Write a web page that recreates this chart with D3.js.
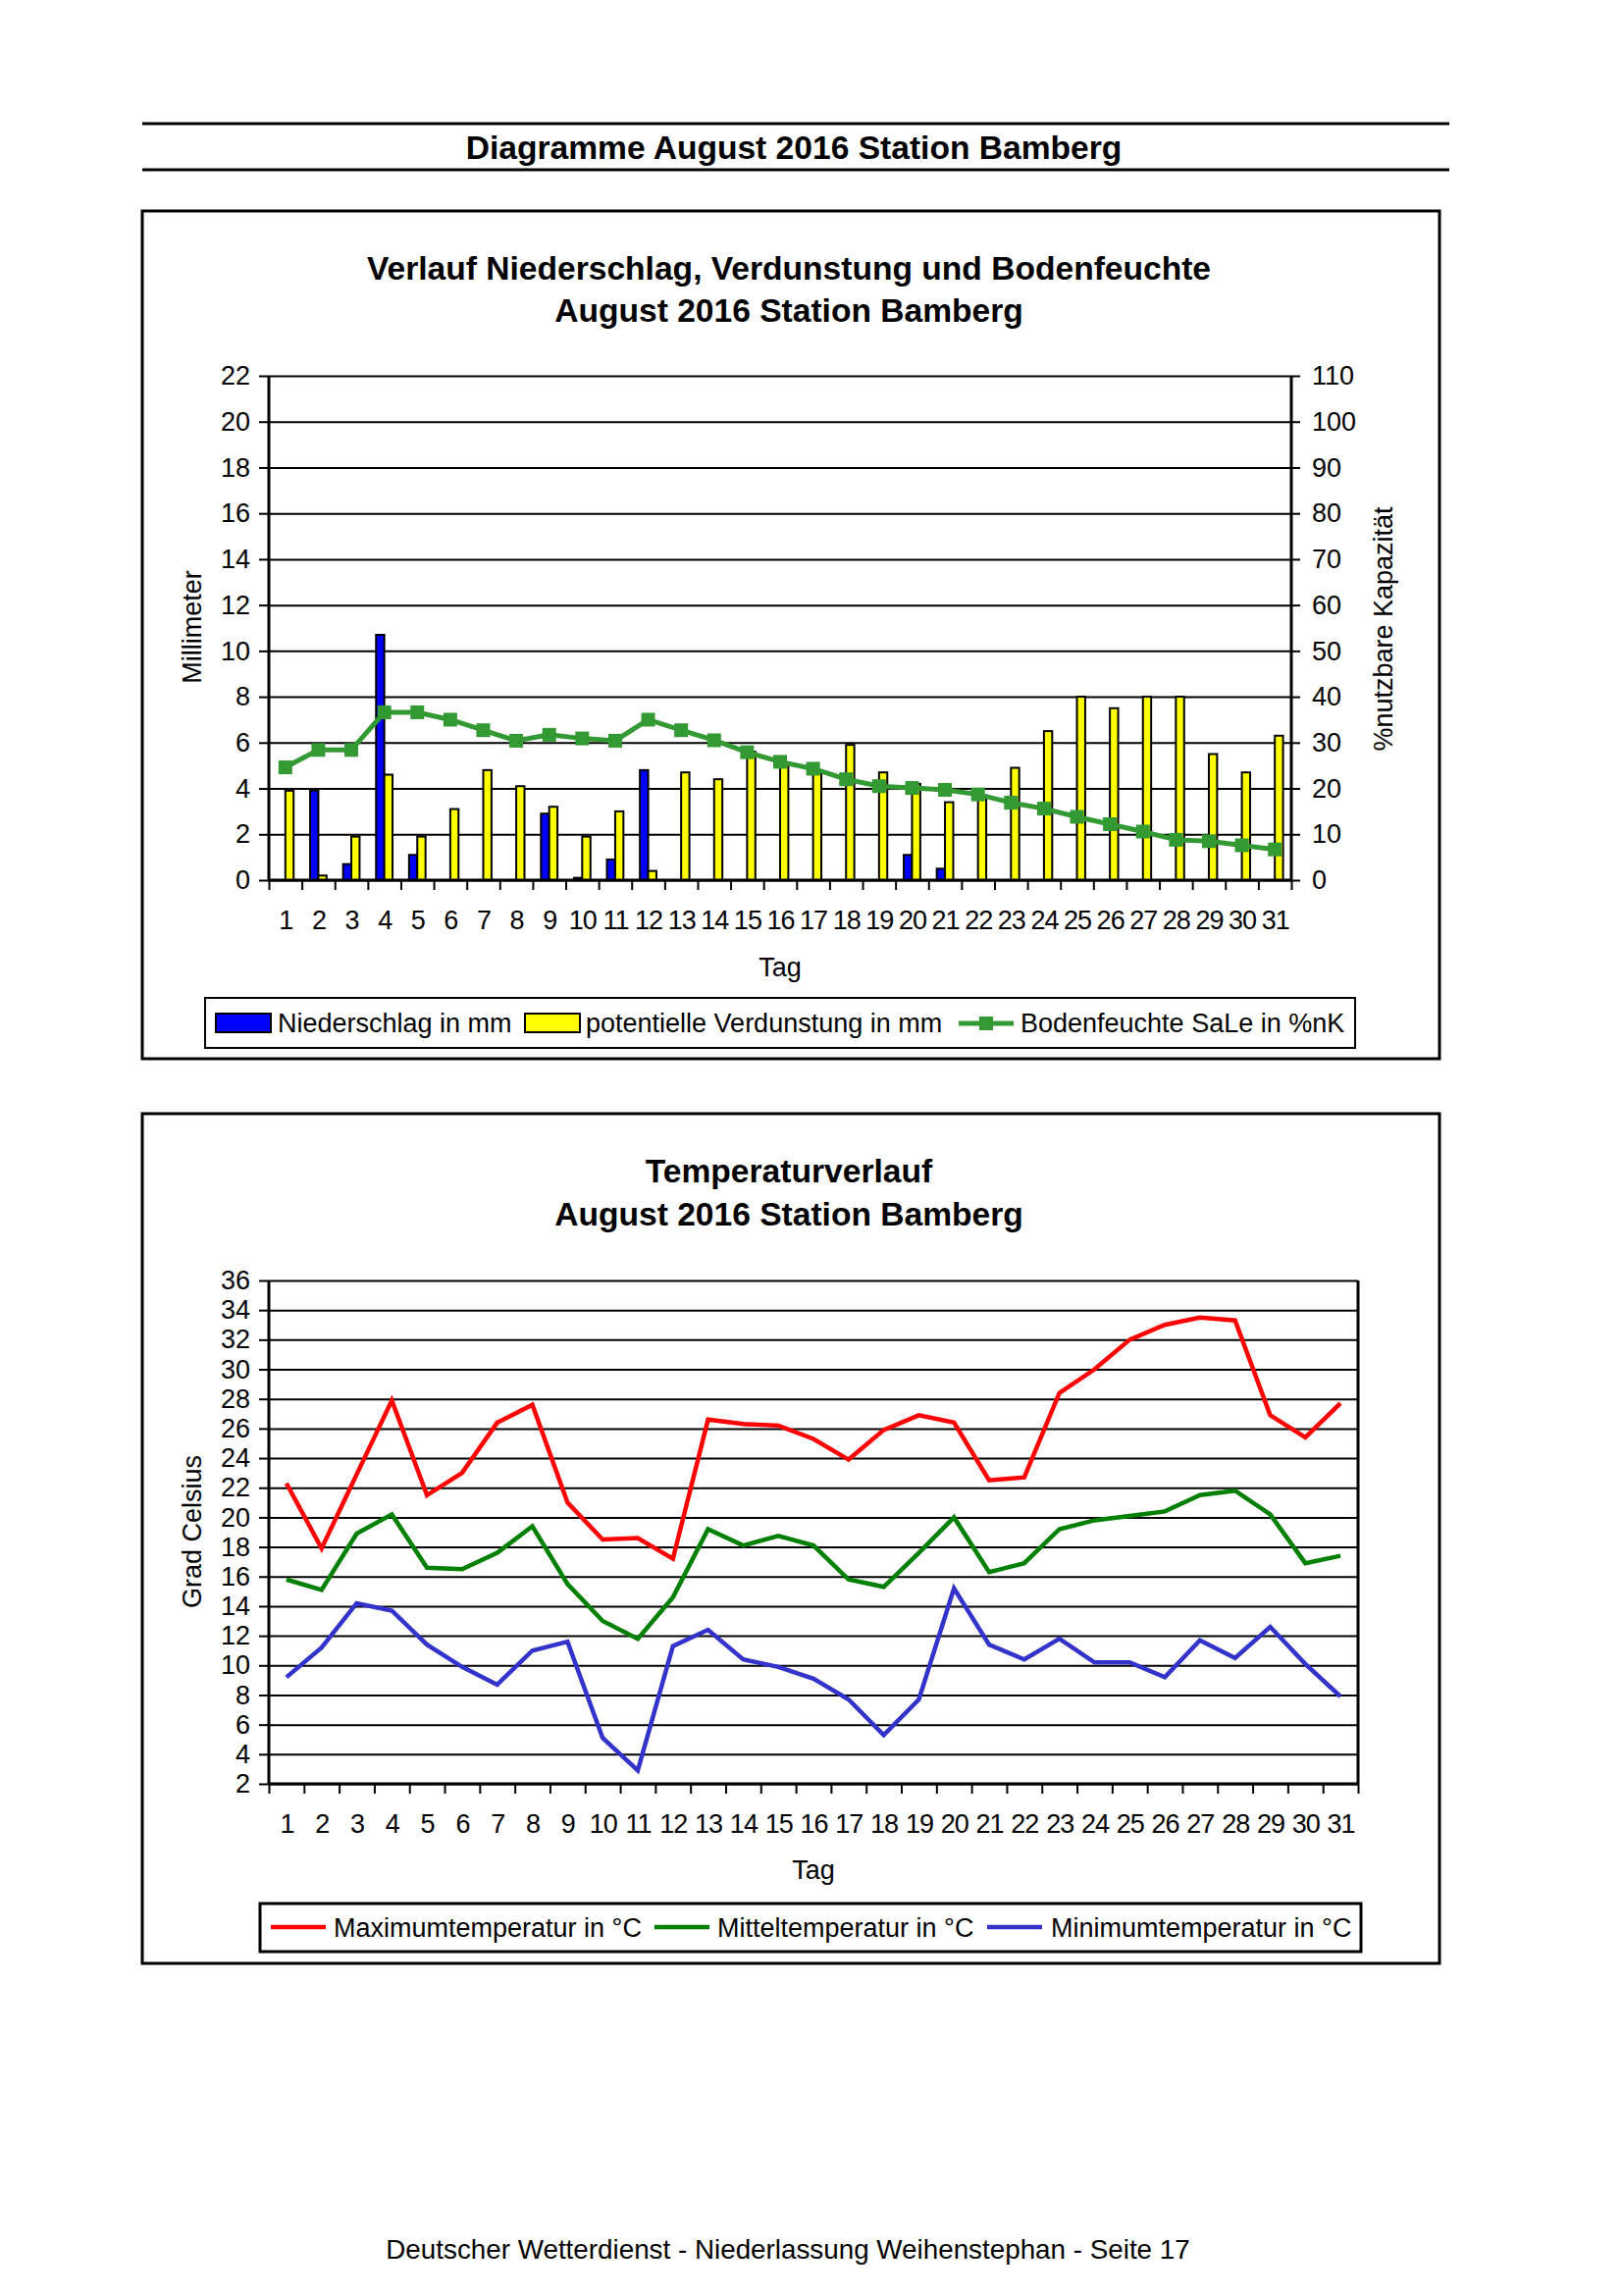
<!DOCTYPE html>
<html><head><meta charset="utf-8">
<script src="https://cdn.jsdelivr.net/npm/d3@7"></script>
<style>
html,body{margin:0;padding:0;background:#fff;}
text{font-family:"Liberation Sans",Arial,sans-serif;fill:#000;}
</style></head>
<body>
<svg id="page" width="1653" height="2340"></svg>
<script>
// ---------- data ----------
const days = [1,2,3,4,5,6,7,8,9,10,11,12,13,14,15,16,17,18,19,20,21,22,23,24,25,26,27,28,29,30,31];
const niederschlag = [0,3.9,0.7,10.7,1.1,0,0,0,2.9,0.1,0.9,4.8,0,0,0,0,0,0,0,1.1,0.5,0,0,0,0,0,0,0,0,0,0];
const verdunstung = [3.9,0.2,1.9,4.6,1.9,3.1,4.8,4.1,3.2,1.9,3.0,0.4,4.7,4.4,5.6,5.1,4.7,5.9,4.7,4.2,3.4,3.7,4.9,6.5,8.0,7.5,8.0,8.0,5.5,4.7,6.3];
const bodenfeuchte = [24.6,28.4,28.4,36.6,36.6,35.0,32.7,30.4,31.7,30.9,30.4,35.0,32.7,30.5,27.9,25.8,24.3,22.0,20.5,20.1,19.7,18.7,16.9,15.6,13.8,12.2,10.6,8.8,8.5,7.6,6.7];
const tmax = [22.3,17.9,22.9,27.9,21.5,23.0,26.4,27.6,21.0,18.5,18.6,17.2,26.6,26.3,26.2,25.3,23.9,25.9,26.9,26.4,22.5,22.7,28.4,30.0,32.0,33.0,33.5,33.3,26.9,25.4,27.7];
const tmean = [15.8,15.1,18.9,20.2,16.6,16.5,17.6,19.4,15.5,13.0,11.8,14.6,19.2,18.1,18.75,18.1,15.8,15.3,17.6,20.0,16.3,16.9,19.2,19.8,20.1,20.4,21.5,21.8,20.2,16.9,17.4];
const tmin = [9.2,11.2,14.2,13.7,11.4,9.9,8.7,11.0,11.6,5.1,2.9,11.3,12.4,10.4,9.9,9.1,7.7,5.3,7.7,15.2,11.4,10.4,11.8,10.2,10.2,9.2,11.7,10.5,12.6,10.1,7.9];
const mmTicks = [0,2,4,6,8,10,12,14,16,18,20,22];
const pctTicks = [0,10,20,30,40,50,60,70,80,90,100,110];
const tempTicks = [2,4,6,8,10,12,14,16,18,20,22,24,26,28,30,32,34,36];
const pageTitle = "Diagramme August 2016 Station Bamberg";
const chart1Title = ["Verlauf Niederschlag, Verdunstung und Bodenfeuchte","August 2016 Station Bamberg"];
const chart2Title = ["Temperaturverlauf","August 2016 Station Bamberg"];
const legend1 = ["Niederschlag in mm","potentielle Verdunstung in mm","Bodenfeuchte SaLe in %nK"];
const legend2 = ["Maximumtemperatur in °C","Mitteltemperatur in °C","Minimumtemperatur in °C"];
const footer = "Deutscher Wetterdienst - Niederlassung Weihenstephan - Seite 17";

const svg = d3.select("#page");
const FS = 27;
const TFS = 33.6;

// ---------- page header ----------
svg.append("line").attr("x1",145).attr("x2",1477).attr("y1",126).attr("y2",126).attr("stroke","#000").attr("stroke-width",3);
svg.append("line").attr("x1",145).attr("x2",1477).attr("y1",173).attr("y2",173).attr("stroke","#000").attr("stroke-width",3);
svg.append("text").attr("x",809).attr("y",162).attr("text-anchor","middle").attr("font-size",TFS).attr("font-weight","bold").text(pageTitle);
svg.append("text").attr("x",803).attr("y",2302).attr("text-anchor","middle").attr("font-size",27.8).text(footer);

function styleAxis(g, w){
  g.selectAll(".domain").attr("stroke","#000").attr("stroke-width",w||3);
  g.selectAll(".tick line").attr("stroke","#000").attr("stroke-width",2);
  g.selectAll("text").attr("font-size",FS).attr("font-family","'Liberation Sans',Arial,sans-serif").attr("fill","#000");
}

// ---------- chart 1 ----------
(function(){
  const box={x:145,y:215,w:1322,h:864};
  svg.append("rect").attr("x",box.x).attr("y",box.y).attr("width",box.w).attr("height",box.h).attr("fill","none").attr("stroke","#000").attr("stroke-width",3);
  chart1Title.forEach((t,i)=>svg.append("text").attr("x",804).attr("y",285+i*43).attr("text-anchor","middle").attr("font-size",TFS).attr("font-weight","bold").text(t));
  const L=274,R=1316,T=383,B=897;
  const x = d3.scaleBand(days,[L,R]).paddingInner(0.5).paddingOuter(0.25);
  const xs = d3.scaleBand(["n","v"],[0,x.bandwidth()]);
  const xl = d3.scaleLinear([0,days.length],[L,R]);
  const y = d3.scaleLinear([0,22],[B,T]);
  const y2 = d3.scaleLinear([0,110],[B,T]);
  // gridlines
  const grid = svg.append("g").attr("transform",`translate(${L},0)`).call(d3.axisLeft(y).tickValues(mmTicks).tickSize(-(R-L)).tickFormat(""));
  grid.selectAll(".domain").remove();
  grid.selectAll(".tick line").attr("stroke","#000").attr("stroke-width",2);
  // bars
  const g = svg.append("g");
  g.selectAll("rect.n").data(days).join("rect").attr("class","n")
    .attr("x",d=>x(d)+xs("n")).attr("width",xs.bandwidth())
    .attr("y",(d,i)=>y(niederschlag[i])).attr("height",(d,i)=>B-y(niederschlag[i]))
    .attr("fill","#0000ff").attr("stroke","#000").attr("stroke-width",2)
    .style("display",(d,i)=>niederschlag[i]>0?null:"none");
  g.selectAll("rect.v").data(days).join("rect").attr("class","v")
    .attr("x",d=>x(d)+xs("v")).attr("width",xs.bandwidth())
    .attr("y",(d,i)=>y(verdunstung[i])).attr("height",(d,i)=>B-y(verdunstung[i]))
    .attr("fill","#ffff00").attr("stroke","#000").attr("stroke-width",2);
  // line
  const cx = d=>x(d)+x.bandwidth()/2;
  const line = d3.line().x((d,i)=>cx(days[i])).y(d=>y2(d));
  g.append("path").attr("d",line(bodenfeuchte)).attr("fill","none").attr("stroke","#339933").attr("stroke-width",5);
  g.selectAll("rect.m").data(bodenfeuchte).join("rect").attr("class","m")
    .attr("x",(d,i)=>cx(days[i])-7).attr("y",d=>y2(d)-7).attr("width",14).attr("height",14).attr("fill","#339933");
  // axes
  const ax = svg.append("g").attr("transform",`translate(${L},0)`).call(d3.axisLeft(y).tickValues(mmTicks).tickSize(10).tickPadding(9));
  styleAxis(ax); ax.select(".domain").attr("d",`M0,${T}V${B}`);
  const ar = svg.append("g").attr("transform",`translate(${R},0)`).call(d3.axisRight(y2).tickValues(pctTicks).tickSize(9).tickPadding(12));
  styleAxis(ar); ar.select(".domain").attr("d",`M0,${T}V${B}`);
  const ab = svg.append("g").attr("transform",`translate(0,${B})`).call(d3.axisBottom(xl).tickValues(d3.range(days.length+1)).tickSize(10).tickFormat(""));
  styleAxis(ab); ab.select(".domain").attr("d",`M${L},0H${R}`);
  const abl = svg.append("g").attr("transform",`translate(0,${B})`).call(d3.axisBottom(d3.scalePoint(days,[L+ (R-L)/62, R-(R-L)/62])).tickSize(0));
  styleAxis(abl); abl.select(".domain").remove();
  abl.selectAll("text").attr("dy",0).attr("y",50).attr("letter-spacing",-1);
  svg.append("text").attr("x",795).attr("y",995).attr("text-anchor","middle").attr("font-size",FS).text("Tag");
  svg.append("text").attr("transform","translate(205,639) rotate(-90)").attr("text-anchor","middle").attr("font-size",FS).text("Millimeter");
  svg.append("text").attr("transform","translate(1419,641) rotate(-90)").attr("text-anchor","middle").attr("font-size",FS).text("%nutzbare Kapazität");
  // legend
  svg.append("rect").attr("x",209).attr("y",1017).attr("width",1172).attr("height",51).attr("fill","#fff").attr("stroke","#000").attr("stroke-width",2);
  svg.append("rect").attr("x",220).attr("y",1033).attr("width",56).attr("height",19).attr("fill","#0000ff").attr("stroke","#000").attr("stroke-width",2);
  svg.append("text").attr("x",283).attr("y",1052).attr("font-size",FS).text(legend1[0]);
  svg.append("rect").attr("x",535).attr("y",1033).attr("width",56).attr("height",19).attr("fill","#ffff00").attr("stroke","#000").attr("stroke-width",2);
  svg.append("text").attr("x",597).attr("y",1052).attr("font-size",FS).text(legend1[1]);
  svg.append("line").attr("x1",977).attr("x2",1033).attr("y1",1043).attr("y2",1043).attr("stroke","#339933").attr("stroke-width",5);
  svg.append("rect").attr("x",998).attr("y",1036).attr("width",14).attr("height",14).attr("fill","#339933");
  svg.append("text").attr("x",1040).attr("y",1052).attr("font-size",FS).text(legend1[2]);
})();

// ---------- chart 2 ----------
(function(){
  svg.append("rect").attr("x",145).attr("y",1135).attr("width",1322).attr("height",866).attr("fill","none").attr("stroke","#000").attr("stroke-width",3);
  chart2Title.forEach((t,i)=>svg.append("text").attr("x",804).attr("y",1205+i*44).attr("text-anchor","middle").attr("font-size",TFS).attr("font-weight","bold").text(t));
  const L=274,R=1384,T=1305,B=1818;
  const x = d3.scalePoint(days,[L+(R-L)/62, R-(R-L)/62]);
  const xl = d3.scaleLinear([0,days.length],[L,R]);
  const y = d3.scaleLinear([2,36],[B,T]);
  const grid = svg.append("g").attr("transform",`translate(${L},0)`).call(d3.axisLeft(y).tickValues(tempTicks).tickSize(-(R-L)).tickFormat(""));
  grid.selectAll(".domain").remove();
  grid.selectAll(".tick line").attr("stroke","#000").attr("stroke-width",2);
  svg.append("line").attr("x1",R).attr("x2",R).attr("y1",T).attr("y2",B).attr("stroke","#000").attr("stroke-width",3);
  const line = d3.line().x((d,i)=>x(days[i])).y(d=>y(d));
  [[tmax,"#ff0000"],[tmean,"#008000"],[tmin,"#3333cc"]].forEach(([s,c])=>{
    svg.append("path").attr("d",line(s)).attr("fill","none").attr("stroke",c).attr("stroke-width",4.5).attr("stroke-linejoin","miter");
  });
  const ax = svg.append("g").attr("transform",`translate(${L},0)`).call(d3.axisLeft(y).tickValues(tempTicks).tickSize(10).tickPadding(9));
  styleAxis(ax); ax.select(".domain").attr("d",`M0,${T}V${B}`);
  const ab = svg.append("g").attr("transform",`translate(0,${B})`).call(d3.axisBottom(xl).tickValues(d3.range(days.length+1)).tickSize(10).tickFormat(""));
  styleAxis(ab); ab.select(".domain").attr("d",`M${L},0H${R}`);
  const abl = svg.append("g").attr("transform",`translate(0,${B})`).call(d3.axisBottom(x).tickSize(0));
  styleAxis(abl); abl.select(".domain").remove();
  abl.selectAll("text").attr("dy",0).attr("y",50).attr("letter-spacing",-1);
  svg.append("text").attr("x",829).attr("y",1915).attr("text-anchor","middle").attr("font-size",FS).text("Tag");
  svg.append("text").attr("transform","translate(205,1561) rotate(-90)").attr("text-anchor","middle").attr("font-size",FS).text("Grad Celsius");
  // legend
  svg.append("rect").attr("x",265).attr("y",1940).attr("width",1122).attr("height",49).attr("fill","#fff").attr("stroke","#000").attr("stroke-width",3);
  const items=[[276,340,"#ff0000"],[667,731,"#008000"],[1006,1071,"#3333cc"]];
  items.forEach(([lx,tx,c],i)=>{
    svg.append("line").attr("x1",lx).attr("x2",lx+56).attr("y1",1964).attr("y2",1964).attr("stroke",c).attr("stroke-width",4.5);
    svg.append("text").attr("x",tx).attr("y",1974).attr("font-size",FS).text(legend2[i]);
  });
})();
</script>
</body></html>
